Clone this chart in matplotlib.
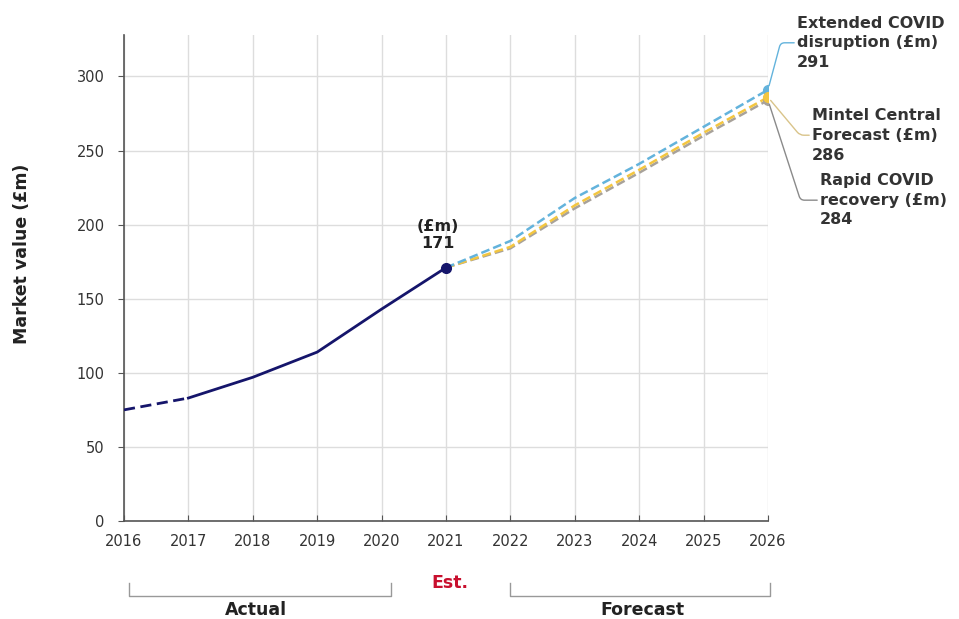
import matplotlib
matplotlib.use('Agg')
import matplotlib.pyplot as plt

plt.rcParams['font.family'] = ['DejaVu Sans']

# ── data ─────────────────────────────────────────────────────────
actual_years  = [2016, 2017, 2018, 2019, 2020, 2021]
actual_values = [75, 83, 97, 114, 143, 171]

forecast_years = [2021, 2022, 2023, 2024, 2025, 2026]
extended_covid = [171, 189, 218, 241, 266, 291]
mintel_central = [171, 185, 213, 237, 262, 286]
rapid_recovery = [171, 184, 211, 235, 260, 284]

year_ticks = list(range(2016, 2027))
value_ticks = [0, 50, 100, 150, 200, 250, 300]

navy   = '#15156b'
c_ext  = '#63b3dc'
c_cen  = '#f3c640'
c_rap  = '#a8a29a'

fig = plt.figure(figsize=(9.59, 6.19), dpi=100)
ax = fig.add_axes([0.1293, 0.1583, 0.6715, 0.7852])

# forecast scenarios (drawn first so the navy dot sits on top)
ax.plot(forecast_years, rapid_recovery, color=c_rap, lw=1.8, ls=(0, (3.5, 1.6)), zorder=3)
ax.plot(forecast_years, mintel_central, color=c_cen, lw=1.8, ls=(0, (3.5, 1.6)), zorder=4)
ax.plot(forecast_years, extended_covid, color=c_ext, lw=1.8, ls=(0, (3.5, 1.6)), zorder=5)

ax.plot(forecast_years[-1], rapid_recovery[-1], 'o', color=c_rap, ms=7, zorder=6)
ax.plot(forecast_years[-1], extended_covid[-1], 'o', color=c_ext, ms=7, zorder=6)
ax.plot(forecast_years[-1], mintel_central[-1], 'o', color=c_cen, ms=7, zorder=7)

# actual market: first segment dashed, rest solid
ax.plot(actual_years[:2], actual_values[:2], color=navy, lw=2, ls=(0, (4, 2)), zorder=6)
ax.plot(actual_years[1:], actual_values[1:], color=navy, lw=2, zorder=6)
ax.plot(actual_years[-1], actual_values[-1], 'o', color=navy, ms=7, zorder=8)

ax.annotate('(£m)\n%d' % actual_values[-1], xy=(actual_years[-1], actual_values[-1]),
            xytext=(-6, 12), textcoords='offset points', ha='center', va='bottom',
            fontsize=11.5, fontweight='bold', color='#222222', linespacing=1.2)

# scenario labels at 2026
lbl = dict(fontsize=11.5, fontweight='bold', color='#333333', ha='left',
           linespacing=1.4, annotation_clip=False, textcoords='offset pixels', va='center')
ax.annotate('Extended COVID\ndisruption (£m)\n%d' % extended_covid[-1],
            xy=(2026, extended_covid[-1]), xytext=(29, 47),
            arrowprops=dict(arrowstyle='-', color=c_ext, lw=1,
                            connectionstyle='angle,angleA=0,angleB=75,rad=4',
                            shrinkA=0, shrinkB=3), **lbl)
ax.annotate('Mintel Central\nForecast (£m)\n%d' % mintel_central[-1],
            xy=(2026, mintel_central[-1]), xytext=(44, -38),
            arrowprops=dict(arrowstyle='-', color='#d9c48a', lw=1,
                            connectionstyle='angle,angleA=0,angleB=-50,rad=4',
                            shrinkA=0, shrinkB=3), **lbl)
ax.annotate('Rapid COVID\nrecovery (£m)\n%d' % rapid_recovery[-1],
            xy=(2026, rapid_recovery[-1]), xytext=(52, -100),
            arrowprops=dict(arrowstyle='-', color='#8a8a8a', lw=1,
                            connectionstyle='angle,angleA=0,angleB=-72,rad=4',
                            shrinkA=0, shrinkB=3), **lbl)

# axes styling
ax.set_xlim(2016, 2026)
ax.set_ylim(0, 328)
ax.set_xticks(year_ticks)
ax.set_yticks(value_ticks)
ax.tick_params(axis='x', direction='in', length=4, colors='#555555', labelcolor='#333333',
               labelsize=10.5, pad=9)
ax.tick_params(axis='y', direction='out', length=4, colors='#555555', labelcolor='#333333',
               labelsize=10.5, pad=10)
ax.grid(True, color='#dddddd', lw=1)
ax.set_axisbelow(True)
for side in ['top', 'right']:
    ax.spines[side].set_visible(False)
for side in ['left', 'bottom']:
    ax.spines[side].set_color('#555555')
    ax.spines[side].set_linewidth(1.2)

ax.set_ylabel('Market value (£m)', fontsize=12.5, fontweight='bold', color='#222222')
ax.yaxis.set_label_coords(-0.145, 0.55)

# period brackets under the axis
trans = ax.get_xaxis_transform()
br_top, br_bot = -0.128, -0.155
for x0, x1 in [(2016.08, 2020.15), (2022.0, 2026.03)]:
    ax.plot([x0, x0, x1, x1], [br_top, br_bot, br_bot, br_top], transform=trans,
            color='#999999', lw=1, clip_on=False)
ax.text(2018.05, -0.183, 'Actual', transform=trans, ha='center', va='center',
        fontsize=12.5, fontweight='bold', color='#222222')
ax.text(2021.06, -0.128, 'Est.', transform=trans, ha='center', va='center',
        fontsize=12.5, fontweight='bold', color='#c8102e')
ax.text(2024.05, -0.183, 'Forecast', transform=trans, ha='center', va='center',
        fontsize=12.5, fontweight='bold', color='#222222')

plt.savefig('out.png', dpi=100)
plt.close()
